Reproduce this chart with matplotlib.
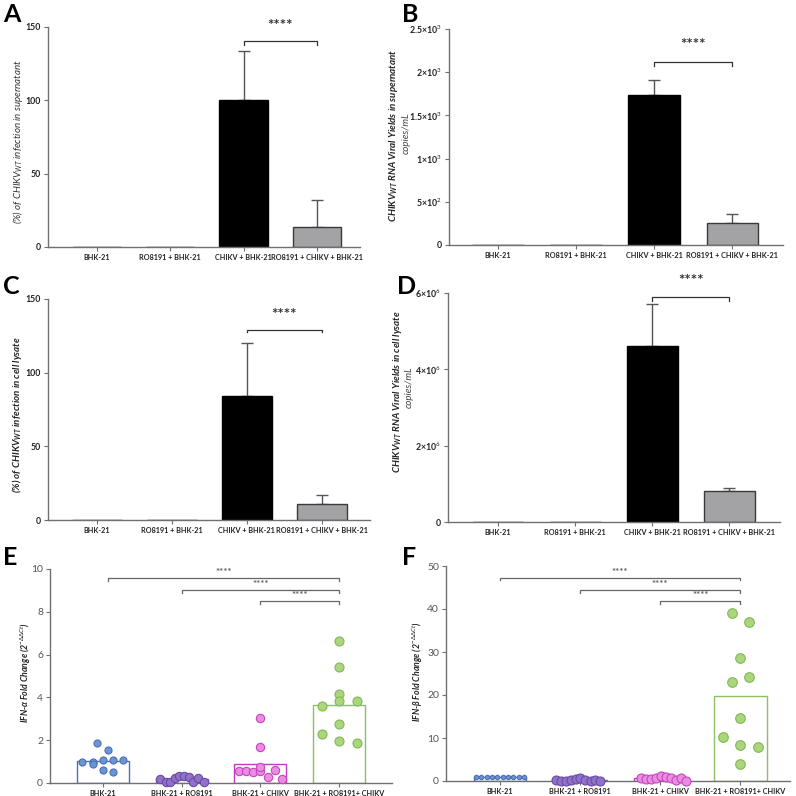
import numpy as np
import matplotlib
matplotlib.use('Agg')
import matplotlib.pyplot as plt

plt.rcParams['font.family'] = ['Lato', 'DejaVu Sans']
plt.rcParams['mathtext.fontset'] = 'custom'
plt.rcParams['mathtext.rm'] = 'Lato'
plt.rcParams['mathtext.it'] = 'Lato:italic'
plt.rcParams['mathtext.bf'] = 'Lato:bold'
plt.rcParams['mathtext.bfit'] = 'Lato:bold:italic'

# ---- data ----
groups_abcd = ['BHK-21', 'RO8191 + BHK-21', 'CHIKV + BHK-21', 'RO8191 + CHIKV + BHK-21']
groups_ef = ['BHK-21', 'BHK-21 + RO8191', 'BHK-21 + CHIKV', 'BHK-21 + RO8191+ CHIKV']

# bar panels: means and upper error lengths
sup_pct = [0, 0, 100, 13.5]
sup_pct_err = [0, 0, 33.5, 18.5]
sup_rna = [0, 0, 1731, 259]
sup_rna_err = [0, 0, 178, 96]
lys_pct = [0, 0, 84.5, 10.8]
lys_pct_err = [0, 0, 35.5, 6.0]
lys_rna = [0, 0, 4.60e6, 0.80e6]
lys_rna_err = [0, 0, 1.10e6, 0.09e6]

# IFN-alpha points (x offset within group, value)
ifna_x = [[-0.26, -0.13, -0.13, -0.07, 0.0, 0.0, 0.06, 0.13, 0.13, 0.26],
          [-0.27, -0.2, -0.15, -0.09, -0.03, 0.03, 0.1, 0.15, 0.21, 0.28],
          [-0.27, -0.18, -0.09, 0.0, 0.0, 0.0, 0.0, 0.1, 0.18, 0.27],
          [-0.22, 0.0, 0.0, 0.0, 0.0, 0.22, 0.0, -0.22, 0.0, 0.22]]
ifna_y = [[0.98, 0.98, 0.87, 1.85, 1.07, 0.61, 1.54, 1.07, 0.51, 1.07],
          [0.17, 0.05, 0.05, 0.22, 0.33, 0.35, 0.26, 0.05, 0.25, 0.05],
          [0.57, 0.57, 0.53, 0.57, 0.76, 1.67, 3.05, 0.28, 0.62, 0.19],
          [3.61, 6.64, 5.44, 4.16, 3.82, 3.82, 2.76, 2.30, 1.95, 1.88]]
ifna_mean = [1.05, 0.18, 0.87, 3.65]

# IFN-beta points
ifnb_x = [[-0.3, -0.233, -0.167, -0.1, -0.033, 0.033, 0.1, 0.167, 0.233, 0.3],
          [-0.3, -0.24, -0.18, -0.12, -0.05, 0.0, 0.06, 0.13, 0.19, 0.25],
          [-0.24, -0.18, -0.11, -0.05, 0.01, 0.07, 0.14, 0.2, 0.26, 0.32],
          [-0.11, 0.11, 0.0, 0.11, -0.11, 0.0, -0.22, 0.0, 0.22, 0.0]]
ifnb_y = [[0.9, 0.9, 0.9, 0.9, 0.9, 0.9, 0.9, 0.9, 0.9, 0.9],
          [0.16, 0.05, 0.05, 0.31, 0.47, 0.62, 0.31, 0.05, 0.31, 0.05],
          [0.62, 0.47, 0.47, 0.78, 1.24, 0.93, 0.78, 0.31, 0.62, 0.05],
          [38.97, 36.9, 28.7, 24.3, 23.0, 14.7, 10.2, 8.4, 8.0, 4.0]]
ifnb_mean = [0.95, 0.25, 0.65, 19.8]

pt_face = ['#6b94d2', '#9072c8', '#ea8de2', '#abd67d']
pt_edge = ['#4a72b5', '#6b4aa6', '#c445bc', '#82b856']
box_edge = ['#4a72b5', '#7b5abb', '#c03cc0', '#8cc062']

W = 796.0
def rect(l, r, t, b):
    return [l / W, 1 - b / W, (r - l) / W, (b - t) / W]

fig = plt.figure(figsize=(7.96, 7.96), dpi=100)
spine_c = '#707070'

def style(ax, labels, xlim, bold_y=True):
    for s in ['top', 'right']:
        ax.spines[s].set_visible(False)
    for s in ['left', 'bottom']:
        ax.spines[s].set_color(spine_c)
        ax.spines[s].set_linewidth(1)
    ax.set_xlim(*xlim)
    ax.set_xticks(range(4))
    ax.set_xticklabels(labels, fontsize=5.2, fontweight='bold', color='#222222')
    ax.tick_params(axis='both', length=3, width=0.8, color=spine_c, pad=2)
    for t in ax.get_yticklabels():
        t.set_fontsize(6.3 if bold_y else 7.5)
        t.set_fontweight('bold' if bold_y else 'normal')
        t.set_color('#222222' if bold_y else '#555555')

def sig(ax, x0, x1, y, ty, cap, size=11, color='#333333'):
    ax.plot([x0, x0, x1, x1], [y - cap, y, y, y - cap], color=color, lw=0.9, clip_on=False)
    ax.text((x0 + x1) / 2, ty, '****', ha='center', va='center', fontsize=size,
            fontweight='bold', color=color, clip_on=False)

def bar_panel(ax, vals, errs, ylim, yticks, yticklabels, xlim):
    x = np.arange(4)
    ax.bar(x, vals, width=0.66, color=['black', 'black', 'black', '#a3a3a6'],
           edgecolor=['black', 'black', 'black', '#3a3a3a'], linewidth=1, zorder=2)
    for i in range(2, 4):
        ax.errorbar(x[i], vals[i], yerr=[[0], [errs[i]]], color='#555555', capsize=4,
                    elinewidth=1, capthick=1, zorder=1)
    ax.set_ylim(*ylim)
    ax.set_yticks(yticks)
    ax.set_yticklabels(yticklabels)
    style(ax, groups_abcd, xlim)

# A
axA = fig.add_axes(rect(48, 360, 27, 247))
bar_panel(axA, sup_pct, sup_pct_err, (0, 150), [0, 50, 100, 150], ['0', '50', '100', '150'], (-0.67, 3.59))
sig(axA, 2, 3, 140.7, 151, 3)
# B
axB = fig.add_axes(rect(449, 783, 29, 245))
bar_panel(axB, sup_rna, sup_rna_err, (0, 2500), [0, 500, 1000, 1500, 2000, 2500],
          ['0', r'5×10$^{2}$', r'1×10$^{3}$', r'1.5×10$^{3}$', r'2×10$^{3}$', r'2.5×10$^{3}$'], (-0.63, 3.65))
sig(axB, 2, 3, 2117, 2318, 50)
# C
axC = fig.add_axes(rect(48, 370, 299, 520))
bar_panel(axC, lys_pct, lys_pct_err, (0, 150), [0, 50, 100, 150], ['0', '50', '100', '150'], (-0.65, 3.64))
sig(axC, 2, 3, 129, 139, 1.5)
# D
axD = fig.add_axes(rect(448, 780, 293, 522))
bar_panel(axD, lys_rna, lys_rna_err, (0, 6e6), [0, 2e6, 4e6, 6e6],
          ['0', r'2×10$^{6}$', r'4×10$^{6}$', r'6×10$^{6}$'], (-0.65, 3.66))
sig(axD, 2, 3, 5.9e6, 6.31e6, 0.12e6)

def dot_panel(ax, xs, ys, means, ylim, yticks, xlim, msize):
    for i in range(4):
        ax.bar(i, means[i], width=0.66, facecolor='white', edgecolor=box_edge[i], linewidth=1, zorder=1)
        ax.scatter(np.array(xs[i]) + i, ys[i], s=msize[i], facecolor=pt_face[i], edgecolor=pt_edge[i],
                   linewidth=0.8, zorder=3, clip_on=False)
    ax.set_ylim(*ylim)
    ax.set_yticks(yticks)
    style(ax, groups_ef, xlim, bold_y=False)

# E
axE = fig.add_axes(rect(50, 392, 569, 783))
dot_panel(axE, ifna_x, ifna_y, ifna_mean, (0, 10), [0, 2, 4, 6, 8, 10], (-0.67, 3.67), [26, 36, 36, 42])
sig(axE, 0.07, 3, 9.57, 9.82, 0.12, size=7, color='#666666')
sig(axE, 1, 3, 9.02, 9.27, 0.12, size=7, color='#666666')
sig(axE, 2, 3, 8.49, 8.74, 0.12, size=7, color='#666666')
# F
axF = fig.add_axes(rect(446, 790, 566, 781))
dot_panel(axF, ifnb_x, ifnb_y, ifnb_mean, (0, 50), [0, 10, 20, 30, 40, 50], (-0.675, 3.62), [10, 42, 42, 48])
sig(axF, 0, 3, 47.3, 48.6, 0.6, size=7, color='#666666')
sig(axF, 1, 3, 44.4, 45.7, 0.6, size=7, color='#666666')
sig(axF, 2, 3, 41.8, 43.1, 0.6, size=7, color='#666666')

# y labels
def ftext(x, y, s, **kw):
    fig.text(x / W, 1 - y / W, s, rotation=90, ha='center', va='center', **kw)

ftext(18, 142, r'(%) of CHIKV$_{\mathit{WT}}$ infection in supernatant', fontsize=7, style='italic', color='#333333')
ftext(393, 135, r'CHIKV$_{\mathbfit{WT}}$ RNA Viral Yields in supernatant', fontsize=7, style='italic', fontweight='bold', color='#222222')
ftext(406, 133, 'copies/mL', fontsize=7, style='italic', color='#444444')
ftext(17, 415, r'(%) of CHIKV$_{\mathbfit{WT}}$ infection in cell lysate', fontsize=7, style='italic', fontweight='bold', color='#222222')
ftext(398, 392, r'CHIKV$_{\mathbfit{WT}}$ RNA Viral Yields in cell lysate', fontsize=7, style='italic', fontweight='bold', color='#222222')
ftext(409, 387, 'copies/mL', fontsize=7, style='italic', color='#444444')
ftext(26, 673, r'IFN-α Fold Change (2$^{-\Delta\Delta Ct}$)', fontsize=6.3, style='italic', fontweight='bold', color='#222222')
ftext(418, 672, r'IFN-β Fold Change (2$^{-\Delta\Delta Ct}$)', fontsize=6.3, style='italic', fontweight='bold', color='#222222')

# panel letters
for letter, (x, y) in zip('ABCDEF', [(3, 3), (402, 3), (3, 275), (397, 275), (3, 546), (402, 546)]):
    fig.text(x / W, 1 - y / W, letter, fontsize=18, fontweight='bold', ha='left', va='top')

plt.savefig('out.png', dpi=100)
